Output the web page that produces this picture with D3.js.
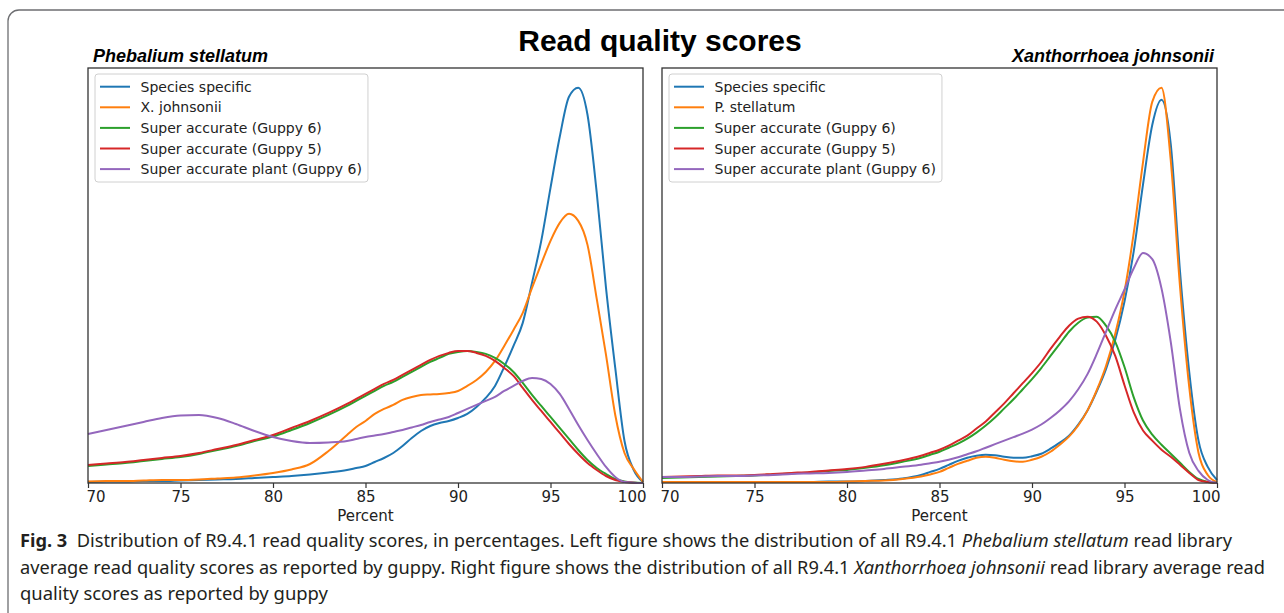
<!DOCTYPE html>
<html>
<head>
<meta charset="utf-8">
<script src="https://cdn.jsdelivr.net/npm/d3@7"></script>
<style>
  body { margin: 0; background: #fff; }
  svg { display: block; }
</style>
</head>
<body>
<div id="chart"></div>
<script>
// read quality (percent) grid shared by every curve
const percent = [70, 71, 72, 73, 74, 75, 76, 77, 78, 79, 80, 81, 82, 83, 84,
  84.5, 85, 85.5, 86, 86.5, 87, 87.5, 88, 88.5, 89, 89.5, 90, 90.5, 91, 91.5, 92,
  92.5, 93, 93.5, 94, 94.5, 95, 95.5, 96, 96.5, 97, 97.5, 98, 98.5, 99, 99.5, 100];

// relative density, Phebalium stellatum library
const psSpecies = [1, 1.5, 1.5, 2, 2, 2.5, 3, 3.5, 4, 5, 6, 7, 8.5, 10.5, 13,
  15, 17, 21, 25, 30, 37, 45, 52, 57, 60, 62, 65, 69, 76, 85, 97, 116, 137, 160, 200, 242, 295, 346, 386, 395, 368, 290, 195, 115, 42, 13, 1];
const psOther = [1.5, 2, 2, 2.5, 3, 3, 3.5, 4.5, 5.5, 7.5, 10, 13.5, 19, 32, 48,
  56, 62, 69, 74, 78, 83, 86, 88, 88.5, 89, 90, 92, 97, 103, 111, 122, 137, 153, 170, 195, 219, 242, 260, 269, 262, 238, 184, 128, 68, 30, 14, 1];
const psSup6 = [17, 18.5, 20, 22, 24, 26, 29, 33, 37, 42, 46.5, 53, 60, 68, 77,
  82, 87, 92, 97, 101, 106, 111, 116, 121, 125, 129, 131, 132, 131, 129, 125, 119, 111, 100, 88, 77, 66, 55, 44, 33, 23, 15, 9, 4, 1.5, 0.5, 0];
const psSup5 = [18, 19.5, 21, 23, 25, 27, 30, 34, 38, 43, 48, 55, 62, 70, 79,
  84, 89, 94, 99, 103, 108, 113, 118, 123, 127, 130, 132, 132, 130, 127, 122, 115, 107, 95, 83, 72, 61, 50, 39, 29, 20, 13, 7, 3, 1, 0.3, 0];
const psPlant = [49, 53, 57, 61, 65, 67.5, 68, 65, 59, 52, 46, 42, 40, 40.5, 42,
  44, 46, 47.5, 49, 51, 53, 55.5, 58, 61, 63.5, 66, 70, 74, 78, 82, 86, 92, 97, 102, 105, 104, 99, 89, 74, 58, 43, 29, 16, 6, 1, 0.3, 0];

// relative density, Xanthorrhoea johnsonii library
const xjSpecies = [1, 1, 1, 1, 1, 1, 1, 1, 1, 1.5, 1.5, 2, 3, 4.5, 8,
  11, 14, 18, 22, 25, 27, 28, 27.5, 26, 25, 25, 26.5, 29, 34, 40, 47, 58, 72, 91, 113, 142, 180, 230, 296, 355, 380, 336, 210, 110, 42, 16, 3];
const xjOther = [1, 1, 1, 1, 1, 1, 1, 1, 1, 1, 1.5, 2, 2.5, 4, 6.5,
  8.5, 11, 15, 19, 22, 25, 26, 25, 23, 21.5, 21, 23, 26, 31, 38, 46, 57, 72, 92, 116, 148, 190, 248, 318, 378, 392, 320, 195, 95, 30, 8, 1];
const xjSup6 = [5, 5.5, 6, 6.5, 7, 7.5, 8.5, 9.5, 10.5, 12, 13, 15, 17.5, 21, 25,
  28, 31, 35, 39, 44, 50, 57, 65, 74, 83, 93, 103, 114, 126, 138, 150, 159, 164, 165, 156, 140, 115, 85, 62, 48, 38, 29, 20, 11, 4, 1, 0];
const xjSup5 = [6, 6.5, 7, 7.5, 7.5, 8, 9, 10, 11, 12.5, 14, 16, 19, 22.5, 27,
  30, 33, 37, 42, 47, 54, 61, 70, 79, 89, 99, 109, 120, 133, 145, 156, 163, 165, 160, 146, 126, 97, 70, 52, 42, 33, 26, 18, 10, 3, 1, 0];
const xjPlant = [6, 6, 6.5, 7, 7, 7.5, 8, 9, 9.5, 10, 11, 12.5, 14, 16, 18,
  19.5, 21, 23, 25.5, 28.5, 31.5, 35, 38.5, 42, 45.5, 49, 53, 58, 64.5, 72, 81, 93, 108, 128, 150, 172, 192, 213, 228, 222, 193, 140, 73, 30, 12, 3, 0];

const psLabels = ['Species specific', 'X. johnsonii', 'Super accurate (Guppy 6)', 'Super accurate (Guppy 5)', 'Super accurate plant (Guppy 6)'];
const xjLabels = ['Species specific', 'P. stellatum', 'Super accurate (Guppy 6)', 'Super accurate (Guppy 5)', 'Super accurate plant (Guppy 6)'];
const colors = ['#1f77b4', '#ff7f0e', '#2ca02c', '#d62728', '#9467bd'];
const xTicks = [70, 75, 80, 85, 90, 95, 100];

const width = 1284, height = 613;
const svg = d3.select('#chart').append('svg')
  .attr('width', width).attr('height', height);

// outer frame of the figure
svg.append('rect')
  .attr('x', 8).attr('y', 10).attr('width', 1300).attr('height', 640)
  .attr('rx', 11)
  .attr('fill', 'none').attr('stroke', '#6d6e71').attr('stroke-width', 1.3);

svg.append('text')
  .attr('x', 660).attr('y', 51)
  .attr('text-anchor', 'middle')
  .style('font-family', '"Liberation Sans", Arial, sans-serif')
  .style('font-weight', 'bold').style('font-size', '30px')
  .text('Read quality scores');

const plotTop = 68, plotBottom = 483;

function drawPanel(x0, x1, title, titleAnchor, series, labels) {
  const x = d3.scaleLinear().domain([70, 100]).range([x0, x1]);
  const yMax = d3.max(series, s => d3.max(s)) * 1.05;
  const y = d3.scaleLinear().domain([0, yMax]).range([plotBottom, plotTop]);

  const g = svg.append('g');

  const line = d3.line()
    .x((d, i) => x(percent[i]))
    .y(d => y(d))
    .curve(d3.curveMonotoneX);

  series.forEach((s, i) => {
    g.append('path')
      .datum(s)
      .attr('d', line)
      .attr('fill', 'none')
      .attr('stroke', colors[i])
      .attr('stroke-width', 2)
      .attr('stroke-linejoin', 'round');
  });

  // spines
  g.append('rect')
    .attr('x', x0).attr('y', plotTop).attr('width', x1 - x0).attr('height', plotBottom - plotTop)
    .attr('fill', 'none').attr('stroke', '#333').attr('stroke-width', 1.3);

  const ax = g.append('g')
    .attr('transform', `translate(0,${plotBottom})`)
    .call(d3.axisBottom(x).tickValues(xTicks).tickSize(5).tickPadding(3));
  ax.select('.domain').remove();
  ax.selectAll('line').attr('stroke', '#333').attr('stroke-width', 1.2);
  ax.selectAll('text')
    .style('font-family', '"DejaVu Sans", sans-serif')
    .style('font-size', '15px').attr('fill', '#222');
  // end labels sit inside the axis span
  ax.selectAll('.tick').filter(d => d === 70).select('text')
    .attr('text-anchor', 'start').attr('x', -2);
  ax.selectAll('.tick').filter(d => d === 100).select('text')
    .attr('text-anchor', 'end').attr('x', 3);

  g.append('text')
    .attr('x', (x0 + x1) / 2).attr('y', 521)
    .attr('text-anchor', 'middle')
    .style('font-family', '"DejaVu Sans", sans-serif')
    .style('font-size', '15px').attr('fill', '#222')
    .text('Percent');

  g.append('text')
    .attr('x', titleAnchor === 'start' ? x0 + 5 : x1 - 3).attr('y', 62)
    .attr('text-anchor', titleAnchor)
    .style('font-family', '"Liberation Sans", Arial, sans-serif')
    .style('font-weight', 'bold').style('font-style', 'italic')
    .style('font-size', '18px')
    .text(title);

  // legend
  const leg = g.append('g').attr('transform', `translate(${x0 + 7},74)`);
  const box = leg.append('rect')
    .attr('height', 108).attr('rx', 3)
    .attr('fill', '#fff').attr('fill-opacity', 0.8)
    .attr('stroke', '#d0d0d0').attr('stroke-width', 1);
  let maxW = 0;
  labels.forEach((lab, i) => {
    const cy = 12.7 + i * 20.6;
    leg.append('line')
      .attr('x1', 5).attr('x2', 35).attr('y1', cy).attr('y2', cy)
      .attr('stroke', colors[i]).attr('stroke-width', 2);
    const t = leg.append('text')
      .attr('x', 45.5).attr('y', cy).attr('dy', '0.36em')
      .style('font-family', '"DejaVu Sans", sans-serif')
      .style('font-size', '14px').attr('fill', '#222')
      .text(lab);
    maxW = Math.max(maxW, t.node().getComputedTextLength());
  });
  box.attr('width', 45.5 + maxW + 6);
}

drawPanel(88, 643, 'Phebalium stellatum', 'start',
  [psSpecies, psOther, psSup6, psSup5, psPlant], psLabels);
drawPanel(662, 1217, 'Xanthorrhoea johnsonii', 'end',
  [xjSpecies, xjOther, xjSup6, xjSup5, xjPlant], xjLabels);

// caption
const capFont = '"Noto Sans", "Open Sans", sans-serif';
function capLine(yPos, len, parts) {
  const t = svg.append('text')
    .attr('x', 20).attr('y', yPos)
    .attr('textLength', len).attr('lengthAdjust', 'spacingAndGlyphs')
    .style('font-family', capFont).style('font-size', '18.5px')
    .attr('fill', '#231f20');
  parts.forEach(p => {
    const s = t.append('tspan').text(p.t);
    if (p.b) s.style('font-weight', 'bold');
    if (p.i) s.style('font-style', 'italic');
  });
}
capLine(547, 1212, [
  { t: 'Fig. 3', b: true },
  { t: '\u00a0\u00a0Distribution of R9.4.1 read quality scores, in percentages. Left figure shows the distribution of all R9.4.1 ' },
  { t: 'Phebalium stellatum', i: true },
  { t: ' read library' }
]);
capLine(574, 1245, [
  { t: 'average read quality scores as reported by guppy. Right figure shows the distribution of all R9.4.1 ' },
  { t: 'Xanthorrhoea johnsonii', i: true },
  { t: ' read library average read' }
]);
capLine(600, 308, [
  { t: 'quality scores as reported by guppy' }
]);
</script>
</body>
</html>
